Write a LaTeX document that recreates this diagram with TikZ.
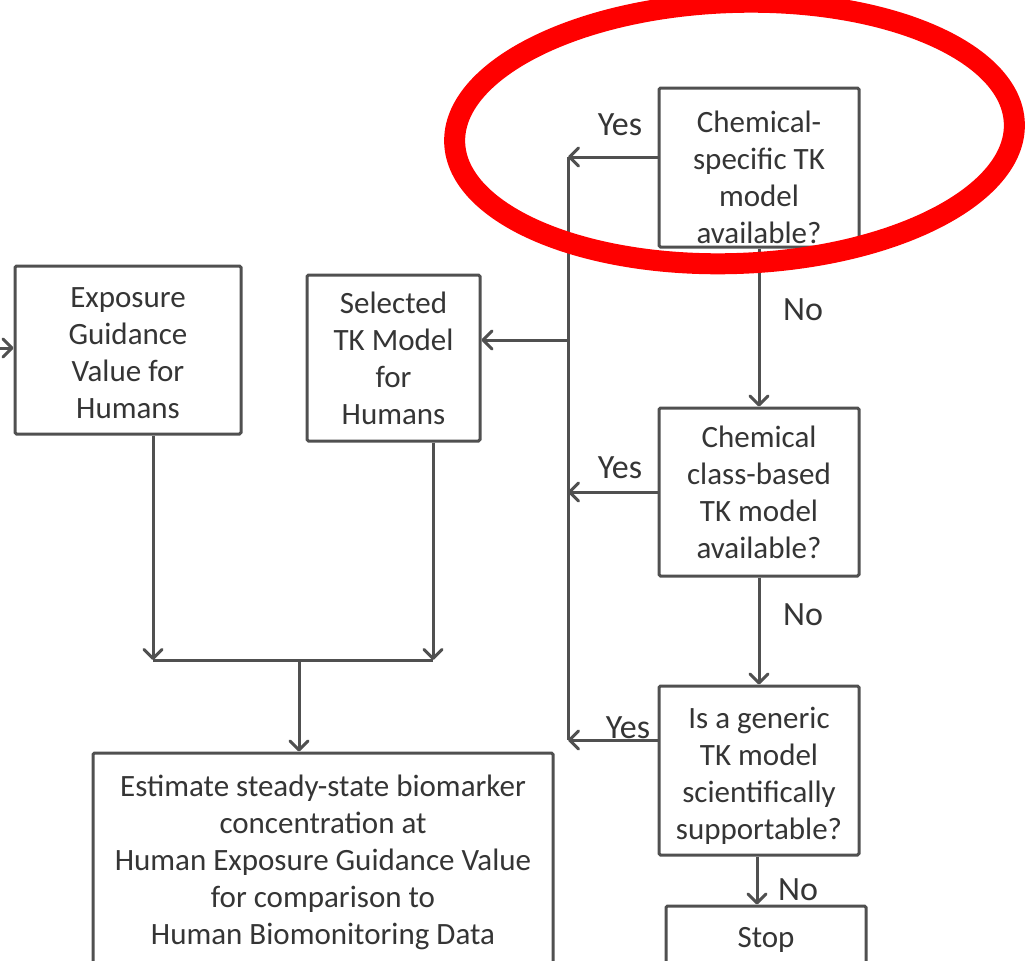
\documentclass[tikz,border=0pt]{standalone}
\usepackage{fontspec}
\setmainfont{Carlito}
\usetikzlibrary{arrows.meta}
\definecolor{inkgray}{HTML}{353535}
\definecolor{linegray}{HTML}{505050}
\tikzset{
  boxtext/.style={align=center, text=inkgray, inner sep=0pt,
    font=\fontsize{31}{37}\selectfont},
  boxnode/.style={boxtext, draw=linegray, line width=3pt, rounded corners=1.5pt},
  flow/.style={draw=linegray, line width=3pt},
  arr/.style={flow, -{Straight Barb[length=9pt,width=18pt,round]}},
  answer/.style={text=inkgray, font=\fontsize{34}{40}\selectfont, inner sep=0pt}
}
\begin{document}
\begin{tikzpicture}[x=1pt,y=1pt]
\useasboundingbox (0,0) rectangle (1036,-961);
\clip (0,0) rectangle (1036,-961);
\fill[white] (0,0) rectangle (1036,-961);

% boxes
\node[boxnode, minimum width=226pt, minimum height=168pt] (egv) at (128,-350) {};
\node[boxtext] (egvt) at ([yshift=-3pt]egv.center)
  {Exposure\\Guidance\\Value for\\Humans};
\node[boxnode, minimum width=173pt, minimum height=166pt] (sel) at (393.5,-358)
  {Selected\\TK Model\\for\\Humans};
\node[boxnode, minimum width=200pt, minimum height=159pt] (c1) at (759,-167.5) {};
\node[boxtext] (c1t) at ([yshift=-10pt]c1.center)
  {Chemical-\\specific TK\\model\\available?};
\node[boxnode, minimum width=200pt, minimum height=168pt] (c2) at (759,-492)
  {Chemical\\class-based\\TK model\\available?};
\node[boxnode, minimum width=200pt, minimum height=169pt] (c3) at (759,-770.5) {};
\node[boxtext] (c3t) at ([yshift=-5pt]c3.center)
  {Is a generic\\TK model\\scientifically\\supportable?};
\node[boxnode, minimum width=200pt, minimum height=68pt] (stop) at (766,-940)
  {Stop};
\node[boxnode, minimum width=460pt, minimum height=218pt] (est) at (323,-862)
  {Estimate steady-state biomarker\\concentration at\\Human Exposure Guidance Value\\for comparison to\\Human Biomonitoring Data};

% trunk collecting the "Yes" answers
\coordinate (t1) at (568,-157);
\coordinate (ts) at (568,-340);
\coordinate (t2) at (568,-740);
\draw[flow] (t1) -- (t2);
\draw[arr] (c1.west |- t1) -- (t1);
\draw[arr] (c2.west) -- (c2.west -| t1);
\draw[arr] (c3.west |- t2) -- (t2);
\draw[arr] (ts) -- (sel.east |- ts);

% "No" chain
\draw[arr] (c1.south) -- (c2.north);
\draw[arr] (c2.south) -- (c3.north);
\draw[arr] ([xshift=-2pt]c3.south) -- ([xshift=-2pt]c3.south |- stop.north);

% incoming arrow on the left
\coordinate (in) at (0,-348);
\draw[arr] (in) -- (egv.west |- in);

% merge towards the estimate box
\coordinate (j1) at (153,-660);
\coordinate (j2) at (433,-660);
\coordinate (jm) at (299,-660);
\draw[arr] (egv.south -| j1) -- (j1);
\draw[arr] (sel.south -| j2) -- (j2);
\draw[flow] (j1) -- (j2);
\draw[arr] (jm) -- (est.north -| jm);

% answer labels
\node[answer] (y1) at (620,-125) {Yes};
\node[answer] (y2) at (620,-468) {Yes};
\node[answer] (y3) at (628,-728) {Yes};
\node[answer] (n1) at (803,-310) {No};
\node[answer] (n2) at (803,-615) {No};
\node[answer] (n3) at (798,-890) {No};

% highlight ring
\draw[red, line width=21pt, rotate around={2:(734.5,-133)}] (734.5,-133) ellipse [x radius=280pt, y radius=130.5pt];
\end{tikzpicture}
\end{document}
